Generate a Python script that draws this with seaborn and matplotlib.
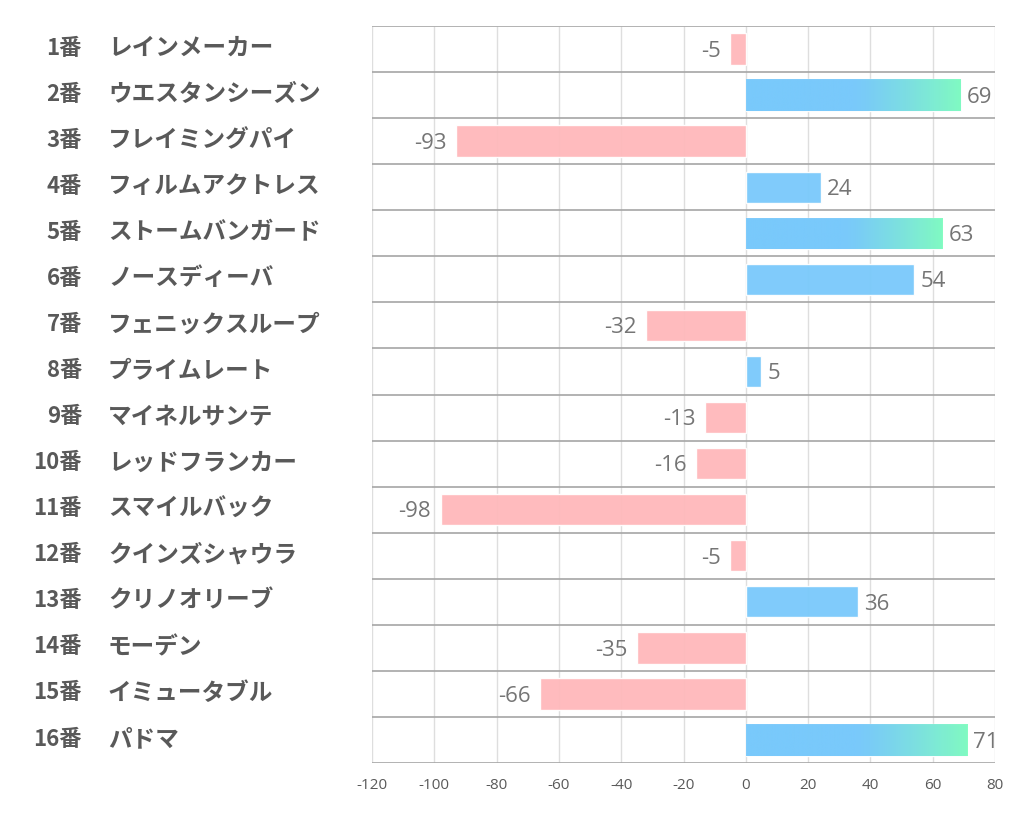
import numpy as np
import pandas as pd
import matplotlib
matplotlib.use("Agg")
import matplotlib.pyplot as plt
import matplotlib.transforms as mtransforms
import seaborn as sns
from matplotlib.colors import to_rgb

numbers = ["1番", "2番", "3番", "4番", "5番", "6番", "7番", "8番",
           "9番", "10番", "11番", "12番", "13番", "14番", "15番", "16番"]
names = ["レインメーカー", "ウエスタンシーズン", "フレイミングパイ", "フィルムアクトレス",
         "ストームバンガード", "ノースディーバ", "フェニックスループ", "プライムレート",
         "マイネルサンテ", "レッドフランカー", "スマイルバック", "クインズシャウラ",
         "クリノオリーブ", "モーデン", "イミュータブル", "パドマ"]
values = [-5, 69, -93, 24, 63, 54, -32, 5, -13, -16, -98, -5, 36, -35, -66, 71]
x_ticks = [-120, -100, -80, -60, -40, -20, 0, 20, 40, 60, 80]

BLUE = "#79C9FB"
GREEN = "#80FDBF"
PINK = "#FFB8BB"
TEXT = "#595959"

sns.set_theme(style="white")
plt.rcParams["font.family"] = ["Noto Sans CJK JP", "DejaVu Sans"]

df = pd.DataFrame({"horse": names, "value": values})
df["sign"] = np.where(df["value"] >= 0, "pos", "neg")

fig = plt.figure(figsize=(10.22, 8.34), dpi=100)
ax = fig.add_axes([372 / 1022, 1 - 763 / 834, (995 - 372) / 1022, (763 - 26) / 834])

sns.barplot(data=df, x="value", y="horse", hue="sign",
            palette={"pos": BLUE, "neg": PINK}, dodge=False, legend=False,
            width=0.68, saturation=1, ax=ax, zorder=2, alpha=0.95)

# gradient fill on the longest positive bars
n = 256
t = np.linspace(0, 1, n)
mix = np.clip((t - 0.5) / 0.5, 0, 1)[:, None] ** 1.2
grad = (1 - mix) * np.array(to_rgb(BLUE)) + mix * np.array(to_rgb(GREEN))
grad = grad[None, :, :]
for p in list(ax.patches):
    w = p.get_width()
    if w > 60:
        y0 = p.get_y()
        h = p.get_height()
        im = ax.imshow(grad, extent=[0, w, y0 + h, y0], aspect="auto",
                       zorder=3, alpha=0.95)
        im.set_clip_path(p)

ax.set_xlim(-120, 80)
ax.set_ylim(len(names) - 0.5, -0.5)

# grid: light vertical, darker row separators
ax.vlines(x_ticks, -0.5, len(names) - 0.5, color="#dedede", lw=1, zorder=1)
ax.hlines(np.arange(-0.5, len(names)), -120, 80, color="#a6a6a6", lw=1.2, zorder=1)

for s in ax.spines.values():
    s.set_visible(False)

ax.set_xticks(x_ticks)
ax.set_xticklabels([str(v) for v in x_ticks], fontsize=11, color=TEXT,
                   family="Open Sans")
ax.tick_params(axis="x", length=0, pad=11)
ax.set_yticks([])
ax.set_xlabel("")
ax.set_ylabel("")

# row labels
trans = mtransforms.blended_transform_factory(fig.transFigure, ax.transData)
for i, (num, name) in enumerate(zip(numbers, names)):
    ax.text(82 / 1022, i - 0.02, num, transform=trans, ha="right", va="center",
            fontsize=16, fontweight="bold", color=TEXT)
    ax.text(108 / 1022, i - 0.02, name, transform=trans, ha="left", va="center",
            fontsize=17, fontweight="bold", color=TEXT)

# value labels
for i, v in enumerate(values):
    if v >= 0:
        ax.text(v + 2.0, i + 0.05, str(v), ha="left", va="center",
                fontsize=16, color="#757575", family="Open Sans")
    else:
        ax.text(v - 3.0, i + 0.05, str(v), ha="right", va="center",
                fontsize=16, color="#757575", family="Open Sans")

fig.savefig("out.png", dpi=100)
